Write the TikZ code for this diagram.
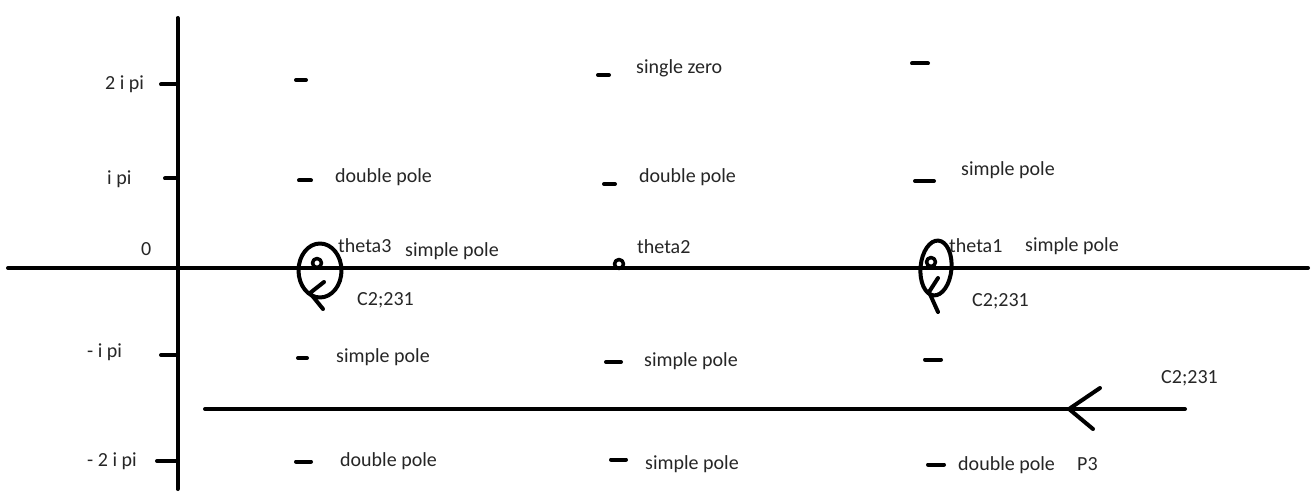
\documentclass[tikz,border=0pt]{standalone}
\usepackage{fontspec}
\setmainfont{Carlito}
\tikzset{
 lbl/.style={inner sep=0pt,anchor=west,font=\fontsize{20}{22}\selectfont,text=black!85},
 ink/.style={line width=4pt,line cap=round,line join=round,black},
 thin ink/.style={line width=3.5pt,line cap=round,line join=round,black}
}
\begin{document}
\begin{tikzpicture}[x=1pt,y=-1pt]
\useasboundingbox (0,0) rectangle (1311,494);
\fill[white] (0,0) rectangle (1311,494);
% axes
\coordinate (xa) at (8,268); \coordinate (xb) at (1308,268);
\coordinate (ya) at (177.5,18); \coordinate (yb) at (177.5,489);
\draw[ink] (xa) -- (xb);
\draw[ink] (ya) -- (yb);
% axis ticks
\foreach \n/\xs/\ys in {t1/161/84.5,t2/165/178.5,t3/161/355,t4/157/461}{
  \draw[ink] (\xs,\ys) -- (177,\ys);
}
% axis labels
\node[lbl] (l2pi) at (105,84) {2 i pi};
\node[lbl] (lpi) at (107,179) {i pi};
\node[lbl] (l0) at (141,249) {0};
\node[lbl] (lmpi) at (87,352) {- i pi};
\node[lbl] (lm2pi) at (87,461) {- 2 i pi};
% pole and zero marks
\foreach \a/\b/\c/\d in {296/80/306/80,598/75/609/75,912/63.5/928/63.5,
  299/180.5/311/180.5,604/184/615/184,915/181/934/181,
  298/358/307/358,606/362/621/362,925/359.5/941/359.5,
  296/461.5/311/461.5,611/459.5/626/459.5,928/464.5/944/464.5}{
  \draw[ink] (\a,\b) -- (\c,\d);
}
% small circles
\draw[thin ink] (317,263) circle (4.5);
\draw[thin ink] (619,264) circle (4.5);
\draw[thin ink] (931,262) circle (4.5);
% contour round theta3
\draw[ink] (320,270.5) ellipse [x radius=21.5, y radius=27];
\coordinate (a1) at (324,282); \coordinate (a2) at (310,293); \coordinate (a3) at (323,309);
\draw[ink] (a1) -- (a2) -- (a3);
% contour round theta1
\draw[ink,rotate around={-5:(936,268)}] (936,268) ellipse [x radius=15.5, y radius=27.5];
\coordinate (b1) at (938,278); \coordinate (b2) at (929,292); \coordinate (b3) at (938,312);
\draw[ink] (b1) -- (b2) -- (b3);
% long contour
\coordinate (c1) at (1185,409); \coordinate (c2) at (205,409);
\coordinate (h1) at (1100,388); \coordinate (h2) at (1069,409); \coordinate (h3) at (1093,429);
\draw[ink] (c1) -- (c2);
\draw[ink] (h1) -- (h2) -- (h3);
% labels
\node[lbl] (sz) at (636,68) {single zero};
\node[lbl] (dp1) at (335,177) {double pole};
\node[lbl] (dp2) at (639,177) {double pole};
\node[lbl] (sp1) at (961,170) {simple pole};
\node[lbl] (th3) at (338,246) {theta3};
\node[lbl] (sp2) at (405,251) {simple pole};
\node[lbl] (th2) at (637,247) {theta2};
\node[lbl] (th1) at (949,246) {theta1};
\node[lbl] (sp3) at (1025,246) {simple pole};
\node[lbl] (c3) at (357,300) {C2;231};
\node[lbl] (c4) at (972,301) {C2;231};
\node[lbl] (sp4) at (336,357) {simple pole};
\node[lbl] (sp5) at (644,361) {simple pole};
\node[lbl] (c5) at (1161,378) {C2;231};
\node[lbl] (dp3) at (340,461) {double pole};
\node[lbl] (sp6) at (645,464) {simple pole};
\node[lbl] (dp4) at (958,465) {double pole};
\node[lbl] (p3) at (1077,464) {P3};
\end{tikzpicture}
\end{document}
